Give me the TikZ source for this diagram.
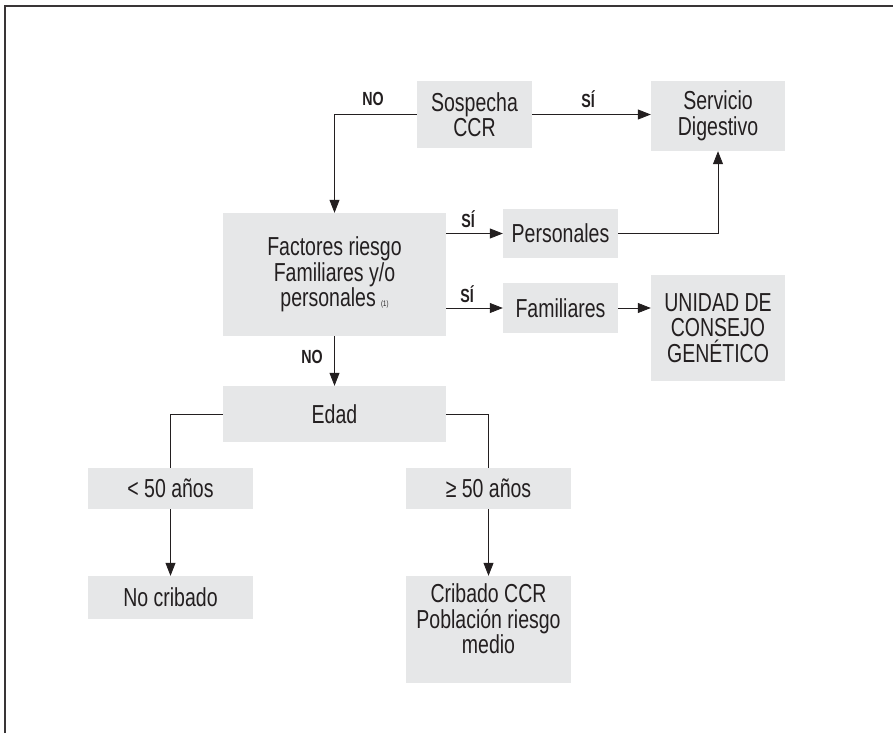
\documentclass[tikz,border=0pt]{standalone}
\usepackage{fontspec}
\setmainfont[FakeStretch=0.75]{Liberation Sans}
\usepackage{tikz}
\usetikzlibrary{arrows.meta}
\definecolor{boxColor}{RGB}{230,231,232}
\definecolor{inkColor}{RGB}{35,31,32}
\tikzstyle{diagram} = [x = 1pt, y = -1pt]
\tikzstyle{boxStyle} = [fill=boxColor, text=inkColor, align=center, inner sep=0pt, font=\fontsize{26}{25.5}\selectfont]
\tikzstyle{flowLine} = [draw=inkColor, line width=0.8pt]
\tikzstyle{flowArrow} = [flowLine, -{Triangle[length=13pt, width=10pt]}]
\tikzstyle{answerText} = [text=inkColor, inner sep=0pt, font=\bfseries\fontsize{19}{19}\selectfont]
\tikzstyle{frameLine} = [draw=inkColor!90, line width=2pt]
\newcommand{\flowBox}[6]{\node [boxStyle, minimum width={(#4 - #2) * 1pt}, minimum height={(#5 - #3) * 1pt}] (#1) at ({(#2 + #4) / 2}, {(#3 + #5) / 2}) {#6};}
\newcommand{\answerLabel}[4]{\node [answerText] (#1) at (#2, #3) {#4};}
\begin{document}
\begin{tikzpicture}[diagram]
          \useasboundingbox (0,0) rectangle (893,733);
          \draw [frameLine] (5,733) -- (5,6) -- (893,6);

          \flowBox{sospecha}{417}{81}{532}{148}{Sospecha\\CCR}
          \flowBox{servicio}{651}{81}{785}{151}{Servicio\\Digestivo}
          \flowBox{factores}{223}{213}{446}{336}{Factores riesgo\\Familiares y/o\\personales {\fontsize{8}{8}\selectfont(1)}}
          \flowBox{personales}{503}{209}{618}{258}{Personales}
          \flowBox{familiares}{503}{283}{618}{333}{Familiares}
          \flowBox{unidad}{651}{275}{785}{381}{UNIDAD DE\\CONSEJO\\GENÉTICO}
          \flowBox{edad}{223}{386}{446}{442}{Edad}
          \flowBox{menor}{88}{468}{253}{509}{< 50 años}
          \flowBox{mayor}{406}{468}{571}{509}{≥ 50 años}
          \flowBox{noCribado}{88}{576}{253}{619}{No cribado}
          \flowBox{cribado}{406}{576}{571}{683}{Cribado CCR\\Población riesgo\\medio\\[-4pt]}

          \answerLabel{noTop}{373}{99}{NO}
          \answerLabel{siTop}{588}{99}{SÍ}
          \answerLabel{siPersonales}{468}{219}{SÍ}
          \answerLabel{siFamiliares}{467}{294}{SÍ}
          \answerLabel{noFactores}{312}{357}{NO}

          \draw [flowArrow] (sospecha.east) -- (servicio.west |- sospecha.east);
          \draw [flowArrow] (sospecha.west) -| (factores.north);
          \draw [flowArrow] (factores.east |- personales.west) -- (personales.west);
          \draw [flowArrow] (personales.east) -| (servicio.south);
          \draw [flowArrow] (factores.east |- familiares.west) -- (familiares.west);
          \draw [flowArrow] (familiares.east) -- (unidad.west |- familiares.east);
          \draw [flowArrow] (factores.south) -- (edad.north);
          \draw [flowLine] (edad.west) -| (menor.north);
          \draw [flowLine] (edad.east) -| (mayor.north);
          \draw [flowArrow] (menor.south) -- (noCribado.north);
          \draw [flowArrow] (mayor.south) -- (cribado.north);
        \end{tikzpicture}
\end{document}
